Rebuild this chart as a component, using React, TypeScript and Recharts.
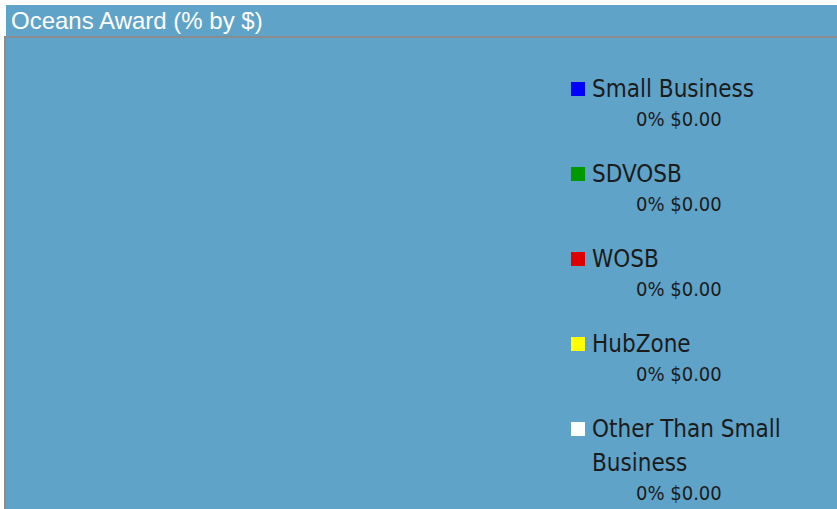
import { Legend, Pie, PieChart } from 'recharts';

const categories = ['Small Business', 'SDVOSB', 'WOSB', 'HubZone', 'Other Than Small Business'];
const amounts = [0, 0, 0, 0, 0];
const percents = [0, 0, 0, 0, 0];
const colors = ['#0000ff', '#009a00', '#dd0000', '#ffff00', '#ffffff'];

const data = categories.map((name, i) => ({ name, value: amounts[i], pct: percents[i], fill: colors[i] }));

const BG = '#60a3c8';
const LABEL_FONT = '"DejaVu Sans Condensed", "DejaVu Sans", sans-serif';

const AwardLegend = () => (
  <div style={{ width: 230 }}>
    {data.map((d) => (
      <div key={d.name} style={{ position: 'relative', marginBottom: 25, paddingLeft: 21 }}>
        <span
          style={{
            position: 'absolute',
            left: 0,
            top: 10,
            width: 14,
            height: 14,
            background: d.fill
          }}
        />
        <div style={{ fontFamily: LABEL_FONT, fontSize: 24, lineHeight: '34px', color: '#1b1b1b', width: 205 }}>
          {d.name}
        </div>
        <div style={{ fontFamily: LABEL_FONT, fontSize: 20, lineHeight: '26px', color: '#1b1b1b', paddingLeft: 44 }}>
          {`${d.pct}% $${d.value.toFixed(2)}`}
        </div>
      </div>
    ))}
  </div>
);

export default function App() {
  return (
    <div style={{ position: 'absolute', left: 0, top: 0, width: 837, height: 509, background: '#fff', overflow: 'hidden' }}>
      <div
        style={{
          position: 'absolute',
          left: 6,
          top: 5,
          width: 831,
          height: 31,
          background: BG,
          color: '#fff',
          fontFamily: '"Liberation Sans", Arial, sans-serif',
          fontSize: 24,
          lineHeight: '32px',
          paddingLeft: 5,
          boxSizing: 'border-box',
          overflow: 'hidden'
        }}
      >
        Oceans Award (% by $)
      </div>
      <div
        style={{
          position: 'absolute',
          left: 4,
          top: 36,
          width: 833,
          height: 480,
          background: BG,
          borderLeft: '2px solid #8c8c8c',
          borderTop: '2px solid #8c8c8c',
          boxSizing: 'border-box'
        }}
      >
        <PieChart width={831} height={478}>
          <Pie
            data={data}
            dataKey="value"
            nameKey="name"
            cx={280}
            cy={235}
            outerRadius={180}
            isAnimationActive={false}
            stroke="none"
          />
          <Legend
            layout="vertical"
            align="right"
            verticalAlign="top"
            content={() => <AwardLegend />}
            wrapperStyle={{ left: 565, top: 34, width: 240 }}
          />
        </PieChart>
      </div>
    </div>
  );
}
